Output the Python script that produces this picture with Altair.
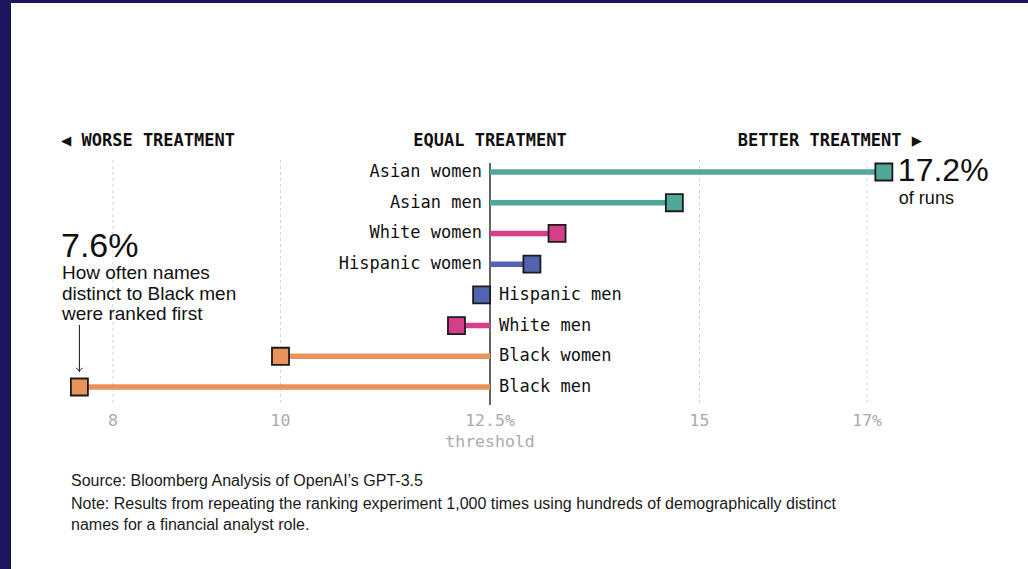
import altair as alt
import pandas as pd

# Share of runs (%) in which names from each group were ranked first
groups = ["Asian women", "Asian men", "White women", "Hispanic women",
          "Hispanic men", "White men", "Black women", "Black men"]
values = [17.2, 14.7, 13.3, 13.0, 12.4, 12.1, 10.0, 7.6]
ethnicity = ["Asian", "Asian", "White", "Hispanic",
             "Hispanic", "White", "Black", "Black"]

threshold = 12.5
grid_values = [8, 10, 15, 17]
tick_values = [8, 10, 12.5, 15, 17]
tick_labels = ["8", "10", "12.5%", "15", "17%"]

eth_domain = ["Asian", "White", "Hispanic", "Black"]
eth_colors = ["#4fa89a", "#d63e89", "#5264b0", "#e8935a"]

W, H = 1028, 569
MONO = "DejaVu Sans Mono"
SANS = "Liberation Sans"

df = pd.DataFrame({
    "group": groups,
    "value": values,
    "eth": ethnicity,
    "base": [threshold] * len(groups),
})
df["above"] = df["value"] >= threshold

# x scale: 12.5 sits at x=490, about 83.8 px per percentage point
px_per_unit = 83.8
x_scale = alt.Scale(domain=[threshold - 490 / px_per_unit,
                            threshold + (W - 490) / px_per_unit],
                    range=[0, W], nice=False, zero=False)
y_scale = alt.Scale(type="point", domain=groups, range=[172, 387], padding=0)
color_scale = alt.Scale(domain=eth_domain, range=eth_colors)

base = alt.Chart(df)
one = pd.DataFrame({"k": [0]})

# side frame
frame_left = alt.Chart(one).mark_rect(color="#1d1560").encode(
    x=alt.value(0), x2=alt.value(11), y=alt.value(0), y2=alt.value(H))
frame_top = alt.Chart(one).mark_rect(color="#1d1560").encode(
    x=alt.value(0), x2=alt.value(W), y=alt.value(0), y2=alt.value(3))

grid = alt.Chart(pd.DataFrame({"v": grid_values})).mark_rule(
    color="#d4d4d4", strokeDash=[3, 3], strokeWidth=1
).encode(x=alt.X("v:Q", scale=x_scale, axis=None),
         y=alt.value(160), y2=alt.value(405))

zero_line = alt.Chart(pd.DataFrame({"v": [threshold]})).mark_rule(
    color="#111111", strokeWidth=1.3
).encode(x=alt.X("v:Q", scale=x_scale, axis=None),
         y=alt.value(163), y2=alt.value(405))

tick_text = alt.Chart(pd.DataFrame({"v": tick_values, "t": tick_labels})).mark_text(
    font=MONO, fontSize=16.5, color="#ababab", baseline="middle", align="center"
).encode(x=alt.X("v:Q", scale=x_scale, axis=None), y=alt.value(421), text="t:N")

threshold_text = alt.Chart(pd.DataFrame({"v": [threshold], "t": ["threshold"]})).mark_text(
    font=MONO, fontSize=16.5, color="#ababab", baseline="middle", align="center"
).encode(x=alt.X("v:Q", scale=x_scale, axis=None), y=alt.value(442), text="t:N")

bars = base.mark_rule(strokeWidth=5.5, strokeCap="butt").encode(
    x=alt.X("base:Q", scale=x_scale, axis=None),
    x2="value:Q",
    y=alt.Y("group:N", scale=y_scale, axis=None),
    color=alt.Color("eth:N", scale=color_scale, legend=None),
)

markers = base.mark_square(size=290, opacity=1, stroke="#1b1b1b", strokeWidth=1.8).encode(
    x=alt.X("value:Q", scale=x_scale, axis=None),
    y=alt.Y("group:N", scale=y_scale, axis=None),
    fill=alt.Color("eth:N", scale=color_scale, legend=None),
)

label_left = base.transform_filter("datum.above").mark_text(
    font=MONO, fontSize=17, color="#111111", align="right", baseline="middle", dx=-8
).encode(x=alt.X("base:Q", scale=x_scale, axis=None),
         y=alt.Y("group:N", scale=y_scale, axis=None), text="group:N")

label_right = base.transform_filter("!datum.above").mark_text(
    font=MONO, fontSize=17, color="#111111", align="left", baseline="middle", dx=9
).encode(x=alt.X("base:Q", scale=x_scale, axis=None),
         y=alt.Y("group:N", scale=y_scale, axis=None), text="group:N")

# direction headers
head_style = dict(font=MONO, fontSize=17, fontWeight="bold", color="#111111", baseline="middle")
head_l = alt.Chart(pd.DataFrame({"t": ["\u25c0 WORSE TREATMENT"]})).mark_text(
    align="left", **head_style
).encode(x=alt.value(61), y=alt.value(141), text="t:N")
head_c = alt.Chart(pd.DataFrame({"v": [threshold], "t": ["EQUAL TREATMENT"]})).mark_text(
    align="center", **head_style
).encode(x=alt.X("v:Q", scale=x_scale, axis=None), y=alt.value(141), text="t:N")
head_r = alt.Chart(pd.DataFrame({"t": ["BETTER TREATMENT \u25b6"]})).mark_text(
    align="right", **head_style
).encode(x=alt.value(922), y=alt.value(141), text="t:N")

# callouts for the extremes
top_val = values[0]
low_val = values[-1]
big_top = alt.Chart(pd.DataFrame({"v": [top_val], "t": [f"{top_val}%"]})).mark_text(
    font=SANS, fontSize=32, color="#111111", align="left", baseline="middle", dx=14
).encode(x=alt.X("v:Q", scale=x_scale, axis=None), y=alt.value(171), text="t:N")
sub_top = alt.Chart(pd.DataFrame({"v": [top_val], "t": ["of runs"]})).mark_text(
    font=SANS, fontSize=18, color="#111111", align="left", baseline="middle", dx=15
).encode(x=alt.X("v:Q", scale=x_scale, axis=None), y=alt.value(199), text="t:N")

big_low = alt.Chart(pd.DataFrame({"t": [f"{low_val}%"]})).mark_text(
    font=SANS, fontSize=34, color="#111111", align="left", baseline="alphabetic"
).encode(x=alt.value(61), y=alt.value(257), text="t:N")
low_lines = ["How often names", "distinct to Black men", "were ranked first"]
sub_low = alt.Chart(pd.DataFrame({"t": low_lines, "yy": [273, 293.5, 314]})).mark_text(
    font=SANS, fontSize=19, color="#111111", align="left", baseline="middle"
).encode(x=alt.value(62), y=alt.Y("yy:Q", scale=None), text="t:N")

arrow_shaft = alt.Chart(pd.DataFrame({"v": [low_val]})).mark_rule(
    color="#111111", strokeWidth=1
).encode(x=alt.X("v:Q", scale=x_scale, axis=None), y=alt.value(325), y2=alt.value(372))
arrow_head = alt.Chart(pd.DataFrame({"v": [low_val]})).mark_point(
    shape="M-1,-1L0,0L1,-1", filled=False, stroke="#111111", strokeWidth=1, size=40, opacity=1
).encode(x=alt.X("v:Q", scale=x_scale, axis=None), y=alt.value(371))

# footer
foot_lines = [
    "Source: Bloomberg Analysis of OpenAI\u2019s GPT-3.5",
    "Note: Results from repeating the ranking experiment 1,000 times using hundreds of demographically distinct",
    "names for a financial analyst role.",
]
footer = alt.Chart(pd.DataFrame({"t": foot_lines, "yy": [481, 504, 525]})).mark_text(
    font=SANS, fontSize=16, color="#1a1a1a", align="left", baseline="middle"
).encode(x=alt.value(71), y=alt.Y("yy:Q", scale=None), text="t:N")

chart = alt.layer(
    frame_left, frame_top, grid, zero_line, tick_text, threshold_text,
    bars, markers, label_left, label_right, head_l, head_c, head_r,
    big_top, sub_top, big_low, sub_low, arrow_shaft, arrow_head, footer,
).resolve_scale(
    x="shared", y="independent", color="shared"
).properties(
    width=W, height=H, background="white",
    autosize=alt.AutoSizeParams(type="none"), padding=0,
).configure_view(stroke=None)

chart.save("out.html", embed_options={"renderer": "svg", "actions": False})
